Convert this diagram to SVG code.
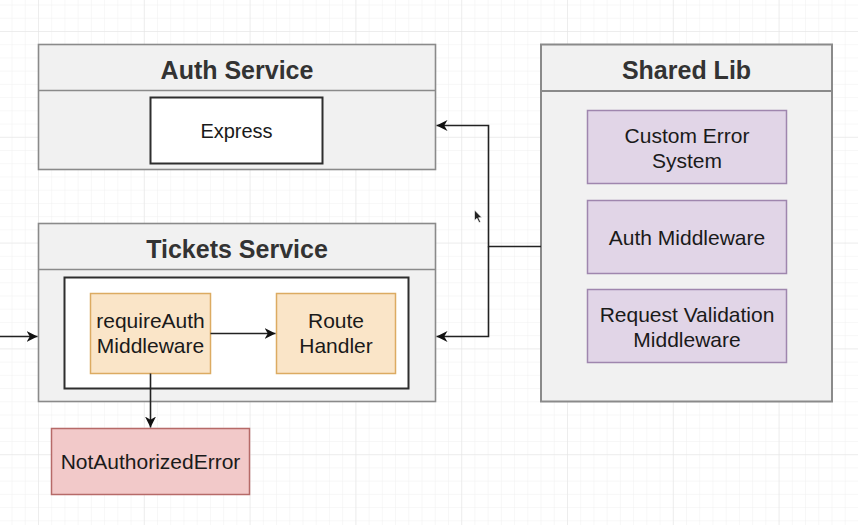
<svg xmlns="http://www.w3.org/2000/svg" width="858" height="525" viewBox="0 0 858 525">
<defs>
<pattern id="minor" x="38" y="31" width="13.225" height="13.225" patternUnits="userSpaceOnUse">
<path d="M0 0V13.225M0 0H13.225" fill="none" stroke="#f0f0f0" stroke-width="1"/>
</pattern>
<pattern id="major" x="38" y="31" width="105.8" height="105.8" patternUnits="userSpaceOnUse">
<path d="M0 0V105.8M0 0H105.8" fill="none" stroke="#e4e4e4" stroke-width="1"/>
</pattern>
<marker id="arr" viewBox="0 0 11 11" refX="11" refY="5.5" markerWidth="11" markerHeight="11" markerUnits="userSpaceOnUse" orient="auto">
<path d="M0 0L11 5.5L0 11L3.3 5.5Z" fill="#111"/>
</marker>
</defs>
<style>
.svc{fill:#f1f1f1;stroke:#8a8a8a;stroke-width:1.6}
.title{font-family:"Liberation Sans",Arial,sans-serif;font-weight:bold;font-size:25px;fill:#333;text-anchor:middle}
.lbl{font-family:"Liberation Sans",Arial,sans-serif;font-size:21px;fill:#1a1a1a;text-anchor:middle}
.inner{fill:#fff;stroke:#2e2e2e;stroke-width:2}
.orange{fill:#fae5c8;stroke:#dcab62;stroke-width:1.5}
.purple{fill:#e1d5e7;stroke:#9f86ae;stroke-width:1.5}
.red{fill:#f2c9c9;stroke:#b66a68;stroke-width:1.5}
.conn{fill:none;stroke:#222;stroke-width:1.6}
</style>
<rect width="858" height="525" fill="#ffffff"/>
<rect width="858" height="525" fill="url(#minor)"/>
<rect width="858" height="525" fill="url(#major)"/>

<g id="auth-service">
<rect class="svc" x="38.5" y="44.5" width="397" height="125"/>
<line x1="38.5" y1="90.5" x2="435.5" y2="90.5" stroke="#8a8a8a" stroke-width="1.6"/>
<text class="title" x="237" y="79">Auth Service</text>
</g>
<g id="express">
<rect class="inner" x="150.5" y="97.5" width="172" height="66"/>
<text class="lbl" x="236.5" y="138" style="font-size:20px">Express</text>
</g>

<g id="tickets-service">
<rect class="svc" x="38.5" y="223.5" width="397" height="178"/>
<line x1="38.5" y1="269.5" x2="435.5" y2="269.5" stroke="#8a8a8a" stroke-width="1.6"/>
<text class="title" x="237" y="258">Tickets Service</text>
</g>
<g id="tickets-app">
<rect class="inner" x="64.5" y="277.5" width="344" height="111"/>
</g>
<g id="require-auth">
<rect class="orange" x="90.5" y="293.5" width="120" height="80"/>
<text class="lbl" x="150.5" y="328">requireAuth</text>
<text class="lbl" x="150.5" y="353">Middleware</text>
</g>
<g id="route-handler">
<rect class="orange" x="276.5" y="293.5" width="119" height="80"/>
<text class="lbl" x="336" y="328">Route</text>
<text class="lbl" x="336" y="353">Handler</text>
</g>
<g id="not-authorized-error">
<rect class="red" x="51.5" y="428.5" width="198" height="66"/>
<text class="lbl" x="150.5" y="469">NotAuthorizedError</text>
</g>

<g id="shared-lib">
<rect class="svc" x="541" y="44.5" width="291" height="357" style="stroke-width:2"/>
<line x1="541" y1="91" x2="832" y2="91" stroke="#8a8a8a" stroke-width="2"/>
<text class="title" x="686.5" y="79">Shared Lib</text>
</g>
<g id="custom-error-system">
<rect class="purple" x="587.5" y="110.5" width="199" height="73"/>
<text class="lbl" x="687" y="143">Custom Error</text>
<text class="lbl" x="687" y="168">System</text>
</g>
<g id="auth-middleware">
<rect class="purple" x="587.5" y="200.5" width="199" height="73"/>
<text class="lbl" x="687" y="245">Auth Middleware</text>
</g>
<g id="request-validation">
<rect class="purple" x="587.5" y="289.5" width="199" height="73"/>
<text class="lbl" x="687" y="322">Request Validation</text>
<text class="lbl" x="687" y="347">Middleware</text>
</g>

<g id="connectors">
<path class="conn" d="M0 336.5H37.5" marker-end="url(#arr)"/>
<path class="conn" d="M210.5 333.5H275.5" marker-end="url(#arr)"/>
<path class="conn" d="M150.5 373.5V427.5" marker-end="url(#arr)"/>
<path class="conn" d="M541 246.5H488.5V125.5H436.5" marker-end="url(#arr)"/>
<path class="conn" d="M488.5 246.5V336.5H436.5" marker-end="url(#arr)"/>
</g>

<path d="M474.5 210L474.5 220.5L477 218.3L479 222.6L480.6 221.9L478.6 217.7L481.8 217.5Z" fill="#222" stroke="#fff" stroke-width="0.6"/>
</svg>
